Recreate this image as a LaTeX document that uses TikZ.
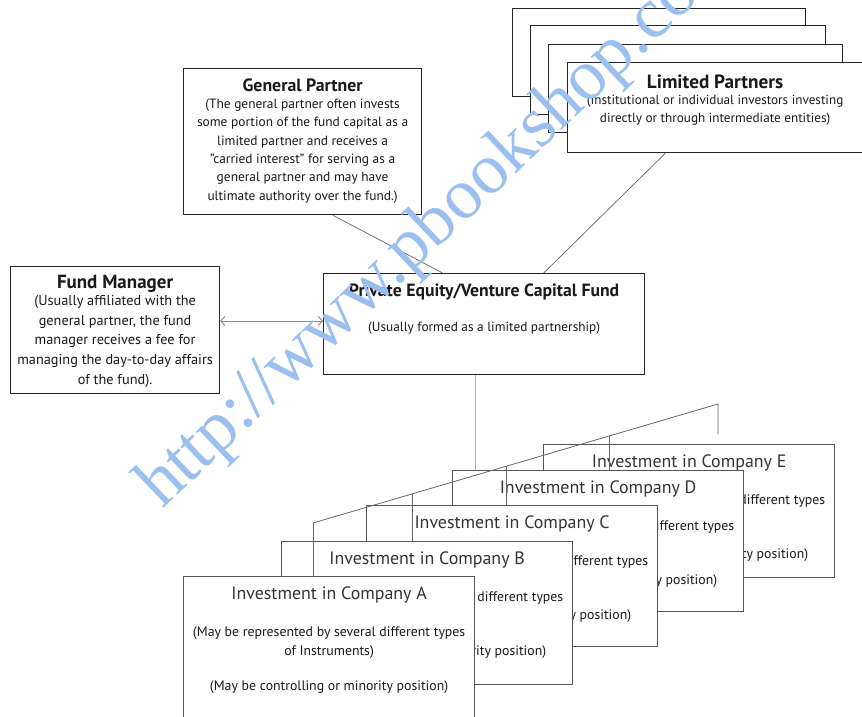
\documentclass[tikz,border=0pt]{standalone}
\usepackage{fontspec}
\setmainfont{PT Sans}
\newfontfamily\wmfont{Liberation Serif}
\usetikzlibrary{arrows.meta,calc}
\definecolor{bord}{HTML}{262626}
\definecolor{cbord}{HTML}{555555}
\definecolor{wmblue}{RGB}{155,192,240}
\begin{document}
\begin{tikzpicture}[x=1pt,y=-1pt,
  box/.style={draw=bord, line width=1.2pt, fill=white, inner sep=0pt, anchor=north west},
  cbox/.style={draw=cbord, line width=1.2pt, fill=white, inner sep=0pt, anchor=north west},
  txt/.style={anchor=base, inner sep=0pt, text=black!90},
  btitle/.style={txt, font=\fontsize{17.7}{20}\selectfont\bfseries},
  bodys/.style={txt, font=\fontsize{13.4}{16}\selectfont},
  ctitle/.style={txt, font=\fontsize{17.9}{20}\selectfont, text=black!80},
  cbody/.style={txt, font=\fontsize{13.8}{16}\selectfont},
  conn/.style={draw=black!55, line width=0.8pt},
  link/.style={draw=black!45, line width=0.9pt, {Straight Barb[length=4pt,width=9pt]}-{Straight Barb[length=4pt,width=9pt]}},
  vline/.style={draw=black!30, line width=1.4pt},
  brk/.style={draw=black!60, line width=0.8pt},
  wm/.style={inner sep=0pt, text=wmblue, font=\wmfont\fontsize{72}{75}\selectfont}
]
\useasboundingbox (0,0) rectangle (862,717);

% ---------- Limited partners stack ----------
\node[box, minimum width=293pt, minimum height=88pt] (lp1) at (512,8) {};
\node[box, minimum width=295pt, minimum height=89pt] (lp2) at (530,25) {};
\node[box, minimum width=294pt, minimum height=88pt] (lp3) at (548,44) {};
\node[box, minimum width=295pt, minimum height=90pt] (lp) at (567,62) {};
\node[btitle, font=\fontsize{19.2}{21}\selectfont\bfseries] (lpt) at ($(lp.north)+(0,26.4)$) {Limited Partners};
\foreach \t [count=\i] in {{(Institutional or individual investors investing},{directly or through intermediate entities)}}
  \node[bodys, font=\fontsize{13.2}{16}\selectfont] (lpb\i) at ($(lp.north)+(0,42.4+18.3*\i-18.3)$) {\t};

% ---------- General partner ----------
\node[box, minimum width=238pt, minimum height=146pt] (gp) at (183,68) {};
\node[btitle, font=\fontsize{17.8}{20}\selectfont\bfseries] (gpt) at ($(gp.north)+(0,23.2)$) {General Partner};
\foreach \t [count=\i] in {{(The general partner often invests},{some portion of the fund capital as a},{limited partner and receives a},{"carried interest" for serving as a},{general partner and may have},{ultimate authority over the fund.)}}
  \node[bodys] (gpb\i) at ($(gp.north)+(0,40.5+18.3*\i-18.3)$) {\t};

% ---------- Fund manager ----------
\node[box, minimum width=209pt, minimum height=127pt] (fm) at (10,266) {};
\node[btitle, font=\fontsize{19}{21}\selectfont\bfseries] (fmt) at ($(fm.north)+(0,22.6)$) {Fund Manager};
\foreach \t [count=\i] in {{(Usually affiliated with the},{general partner, the fund},{manager receives a fee for},{managing the day-to-day affairs},{of the fund).}}
  \node[bodys, font=\fontsize{14.3}{16}\selectfont] (fmb\i) at ($(fm.north)+(0,39.4+19.7*\i-19.7)$) {\t};

% ---------- Fund ----------
\node[box, minimum width=321pt, minimum height=101pt] (pe) at (323,273) {};
\node[btitle] (pet) at ($(pe.north)+(0,23.9)$) {Private Equity/Venture Capital Fund};
\node[bodys, font=\fontsize{13.3}{16}\selectfont] (peb) at ($(pe.north)+(0,58.8)$) {(Usually formed as a limited partnership)};

% ---------- connectors ----------
\draw[conn] ($(gp.south west)!0.626!(gp.south east)$) -- ($(pe.north west)!0.371!(pe.north east)$);
\draw[conn] ($(lp.south west)!0.332!(lp.south east)$) -- ($(pe.north west)!0.685!(pe.north east)$);
\draw[link] (fm.east |- 0,321) -- (pe.west |- 0,321);
\coordinate (v0) at ($(pe.south west)!0.4735!(pe.south east)$);
\draw[vline] (v0) -- ++(0,100);

% ---------- companies ----------
\foreach \n/\x/\y/\h in {E/543/444/133,D/452/470/141,C/366/505/141,B/281/541/143,A/183/576/150}{
  \node[cbox, minimum width=291pt, minimum height=\h pt] (c\n) at (\x,\y) {};
  \node[ctitle] (c\n t) at ($(c\n.north)+(0,23.2)$) {Investment in Company \n};
  \node[cbody] (c\n b1) at ($(c\n.north)+(0,60.5)$) {(May be represented by several different types};
  \node[cbody] (c\n b2) at ($(c\n.north)+(0,79.5)$) {of Instruments)};
  \node[cbody] (c\n b3) at ($(c\n.north)+(0,114.5)$) {(May be controlling or minority position)};
}

% ---------- bracket ----------
\coordinate (br0) at (313,523);
\coordinate (br1) at (718,404);
\coordinate (br1e) at (718,434);
\draw[brk] (br0) -- (br1) -- (br1e);
\draw[brk] (br0) -- (br0 |- cA.north);
\coordinate (brB) at ($(br0)!0.2444!(br1)$);
\coordinate (brC) at ($(br0)!0.4765!(br1)$);
\coordinate (brD) at ($(br0)!0.7309!(br1)$);
\draw[brk] (brB) -- (brB |- cB.north);
\draw[brk] (brC) -- (brC |- cC.north);
\draw[brk] (brD) -- (brD |- cD.north);

% ---------- watermark ----------
\node[wm, rotate=43.5, anchor=base west] (wmk) at (162,510) {http://www.pbookshop.com};
\end{tikzpicture}
\end{document}
